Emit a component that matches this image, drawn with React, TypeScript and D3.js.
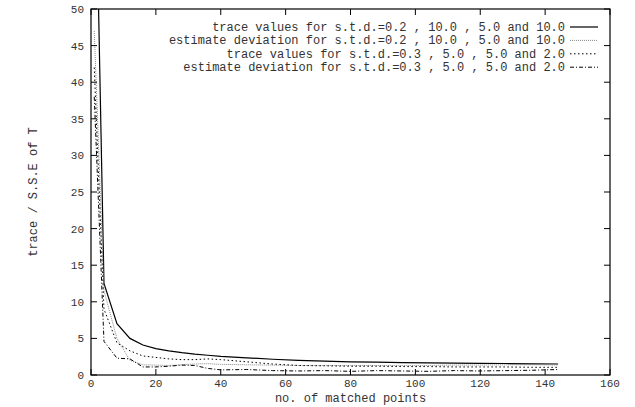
import React from 'react';
import * as d3 from 'd3';

// number of matched points
const xs = [1, 4, 8, 12, 16, 20, 24, 28, 32, 36, 40, 48, 56, 64, 72, 80, 88, 96, 104, 112, 120, 128, 136, 144];

const traceA = [80, 12.5, 7.0, 5.0, 4.1, 3.6, 3.3, 3.05, 2.85, 2.7, 2.55, 2.35, 2.15, 2.0, 1.9, 1.8, 1.75, 1.7, 1.65, 1.62, 1.6, 1.57, 1.53, 1.5];
const devA = [47, 11.5, 5.0, 2.0, 1.4, 1.35, 1.3, 1.4, 1.5, 1.55, 1.45, 1.4, 1.35, 1.3, 1.3, 1.3, 1.3, 1.3, 1.3, 1.35, 1.35, 1.4, 1.4, 1.37];
const traceB = [42, 9.0, 4.4, 3.3, 2.6, 2.4, 2.2, 2.1, 2.1, 2.2, 2.1, 1.8, 1.5, 1.3, 1.25, 1.2, 1.2, 1.15, 1.15, 1.1, 1.1, 1.1, 1.05, 1.05];
const devB = [38, 4.6, 2.3, 2.2, 1.1, 1.1, 1.2, 1.35, 1.3, 0.9, 0.7, 0.75, 0.6, 0.55, 0.6, 0.5, 0.6, 0.55, 0.5, 0.6, 0.55, 0.6, 0.65, 0.75];

const seriesNames = [
  'trace values for s.t.d.=0.2 , 10.0 , 5.0 and 10.0',
  'estimate deviation for s.t.d.=0.2 , 10.0 , 5.0 and 10.0',
  'trace values for s.t.d.=0.3 , 5.0 , 5.0 and 2.0',
  'estimate deviation for s.t.d.=0.3 , 5.0 , 5.0 and 2.0',
];
const seriesValues = [traceA, devA, traceB, devB];

const xTicks = [0, 20, 40, 60, 80, 100, 120, 140, 160];
const yTicks = [0, 5, 10, 15, 20, 25, 30, 35, 40, 45, 50];

const styles = [
  { stroke: '#000', dash: 'none', w: 1.2 },
  { stroke: '#888', dash: '1,1', w: 1 },
  { stroke: '#000', dash: '1.5,2.5', w: 1 },
  { stroke: '#000', dash: '4,2,1,2', w: 1 },
];

const W = 635, H = 407;
const L = 91, R = 610, T = 9, B = 375;
const font = '"Liberation Mono", "DejaVu Sans Mono", monospace';
const txt = '#333';

export default function App() {
  const x = d3.scaleLinear().domain([0, 160]).range([L, R]);
  const y = d3.scaleLinear().domain([0, 50]).range([B, T]);
  const line = d3.line<number>().x((_, i) => x(xs[i])).y(d => y(d));
  const tl = 6;

  return (
    <svg width={W} height={H} style={{ position: 'absolute', left: 0, top: 0, background: '#fff' }}>
      <defs>
        <clipPath id="plot">
          <rect x={L} y={T} width={R - L} height={B - T} />
        </clipPath>
      </defs>
      <rect width={W} height={H} fill="#fff" />
      <g clipPath="url(#plot)">
        {seriesValues.map((vals, i) => (
          <path key={i} d={line(vals) || ''} fill="none" stroke={styles[i].stroke}
            strokeWidth={styles[i].w} strokeDasharray={styles[i].dash} />
        ))}
      </g>
      {xTicks.map(t => (
        <g key={'x' + t}>
          <line x1={x(t)} x2={x(t)} y1={B} y2={B - tl} stroke="#000" />
          <line x1={x(t)} x2={x(t)} y1={T} y2={T + tl} stroke="#000" />
          <text x={x(t)} y={387} textAnchor="middle" fontFamily={font} fontSize={11} fill={txt}>{t}</text>
        </g>
      ))}
      {yTicks.map(t => (
        <g key={'y' + t}>
          <line x1={L} x2={L + tl} y1={y(t)} y2={y(t)} stroke="#000" />
          <line x1={R} x2={R - tl} y1={y(t)} y2={y(t)} stroke="#000" />
          <text x={84} y={y(t) + 4} textAnchor="end" fontFamily={font} fontSize={11} fill={txt}>{t}</text>
        </g>
      ))}
      <rect x={L} y={T} width={R - L} height={B - T} fill="none" stroke="#000" strokeWidth={1.2} />
      {seriesNames.map((name, i) => {
        const ly = 27 + i * 13.4;
        return (
          <g key={name}>
            <text x={565} y={ly + 4} textAnchor="end" fontFamily={font} fontSize={12} fill={txt}>{name}</text>
            <line x1={570} x2={598} y1={ly} y2={ly} stroke={styles[i].stroke}
              strokeWidth={styles[i].w} strokeDasharray={styles[i].dash} />
          </g>
        );
      })}
      <text x={(L + R) / 2} y={402} textAnchor="middle" fontFamily={font} fontSize={12} fill={txt}>no. of matched points</text>
      <text transform={`translate(37,${(T + B) / 2}) rotate(-90)`} textAnchor="middle" fontFamily={font} fontSize={12} fill={txt}>trace / S.S.E of T</text>
    </svg>
  );
}
